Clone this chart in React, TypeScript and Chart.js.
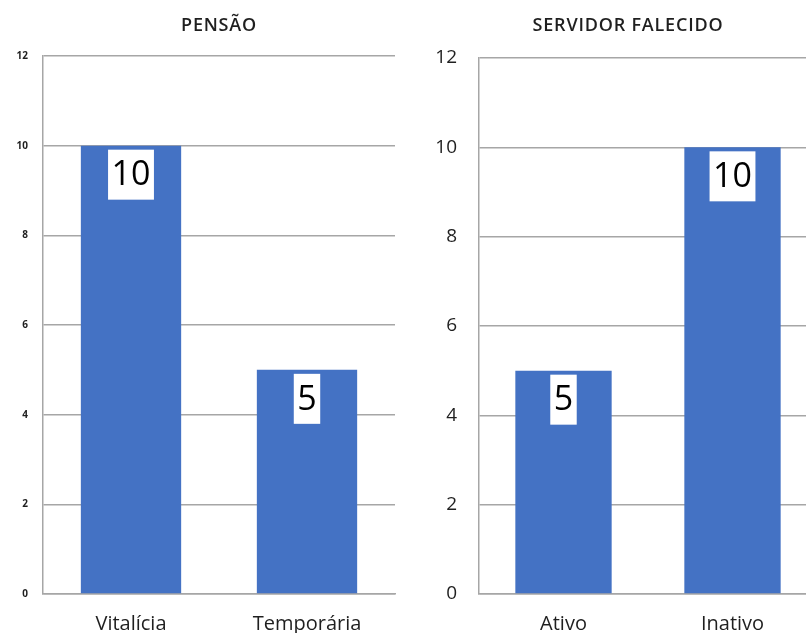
import React, { useEffect, useRef } from "react";
import { Chart, registerables } from "chart.js";

Chart.register(...registerables);

const pensaoCategories = ["Vitalícia", "Temporária"];
const pensaoValues = [10, 5];
const servidorCategories = ["Ativo", "Inativo"];
const servidorValues = [5, 10];
const yTicks = [0, 2, 4, 6, 8, 10, 12];

const BAR_COLOR = "#4472C4";
const GRID_COLOR = "#a6a6a6";
const TEXT_COLOR = "#1f1f1f";
const FONT = "'Open Sans', 'DejaVu Sans', sans-serif";

type Cfg = {
  title: string;
  titleX: number;
  categories: string[];
  values: number[];
  yAxisWidth: number;
  tickFont: any;
  tickPadding: number;
  padTop: number;
  padRight: number;
};

const labelPlugin = {
  id: "boxLabels",
  afterDatasetsDraw(chart: any) {
    const ctx = chart.ctx;
    const meta = chart.getDatasetMeta(0);
    const data = chart.data.datasets[0].data;
    ctx.save();
    ctx.font = `34px ${FONT}`;
    ctx.textAlign = "center";
    ctx.textBaseline = "middle";
    meta.data.forEach((bar: any, i: number) => {
      const txt = String(data[i]);
      const w = ctx.measureText(txt).width + 7;
      const h = 50;
      const top = bar.y + 4;
      ctx.fillStyle = "#ffffff";
      ctx.fillRect(bar.x - w / 2, top, w, h);
      ctx.fillStyle = "#000000";
      ctx.fillText(txt, bar.x, top + h / 2 + 1);
    });
    ctx.restore();
  },
};

const titlePlugin = {
  id: "customTitle",
  afterDraw(chart: any) {
    const o = chart.options.plugins.customTitle;
    if (!o) return;
    const ctx = chart.ctx;
    ctx.save();
    ctx.font = `600 18px ${FONT}`;
    try {
      (ctx as any).letterSpacing = "0.8px";
    } catch (e) {}
    ctx.fillStyle = TEXT_COLOR;
    ctx.textAlign = "center";
    ctx.textBaseline = "middle";
    ctx.fillText(o.text, o.x, o.y);
    ctx.restore();
  },
};

function BarPanel({ cfg, left, width }: { cfg: Cfg; left: number; width: number }) {
  const ref = useRef<HTMLCanvasElement | null>(null);
  useEffect(() => {
    if (!ref.current) return;
    const chart = new Chart(ref.current, {
      type: "bar",
      data: {
        labels: cfg.categories,
        datasets: [
          {
            data: cfg.values,
            backgroundColor: BAR_COLOR,
            barPercentage: 0.57,
            categoryPercentage: 1,
          },
        ],
      },
      plugins: [labelPlugin, titlePlugin],
      options: {
        responsive: false,
        animation: false,
        layout: { padding: { top: cfg.padTop, right: cfg.padRight, left: 0, bottom: 0 } },
        plugins: {
          legend: { display: false },
          tooltip: { enabled: false },
          title: { display: false },
          customTitle: { text: cfg.title, x: cfg.titleX, y: 26 },
        } as any,
        scales: {
          x: {
            grid: { display: false },
            border: { display: true, color: GRID_COLOR, width: 1.5 },
            ticks: {
              color: TEXT_COLOR,
              font: { family: FONT, size: 20 },
              padding: 10,
              maxRotation: 0,
            },
            afterFit: (s: any) => {
              s.height = 39;
            },
          },
          y: {
            min: 0,
            max: 12,
            afterBuildTicks: (s: any) => {
              s.ticks = yTicks.map((v) => ({ value: v }));
            },
            grid: { color: GRID_COLOR, lineWidth: 1.5, drawTicks: false },
            border: { display: true, color: GRID_COLOR, width: 1.5 },
            ticks: {
              color: TEXT_COLOR,
              font: cfg.tickFont,
              padding: cfg.tickPadding,
            },
            afterFit: (s: any) => {
              s.width = cfg.yAxisWidth;
            },
          },
        },
      },
    });
    return () => chart.destroy();
  }, []);
  return (
    <canvas
      ref={ref}
      width={width}
      height={633}
      style={{ position: "absolute", left, top: 0, width, height: 633 }}
    />
  );
}

const pensaoCfg: Cfg = {
  title: "PENSÃO",
  titleX: 219,
  categories: pensaoCategories,
  values: pensaoValues,
  yAxisWidth: 43,
  tickFont: { family: FONT, size: 10, weight: "bold" },
  tickPadding: 15,
  padTop: 56,
  padRight: 5,
};

const servidorCfg: Cfg = {
  title: "SERVIDOR FALECIDO",
  titleX: 228,
  categories: servidorCategories,
  values: servidorValues,
  yAxisWidth: 79,
  tickFont: { family: FONT, size: 19 },
  tickPadding: 22,
  padTop: 58,
  padRight: 0,
};

export default function App() {
  return (
    <div
      style={{
        position: "absolute",
        left: 0,
        top: 0,
        width: 806,
        height: 633,
        overflow: "hidden",
        background: "#ffffff",
      }}
    >
      <BarPanel cfg={pensaoCfg} left={0} width={400} />
      <BarPanel cfg={servidorCfg} left={400} width={417} />
    </div>
  );
}
